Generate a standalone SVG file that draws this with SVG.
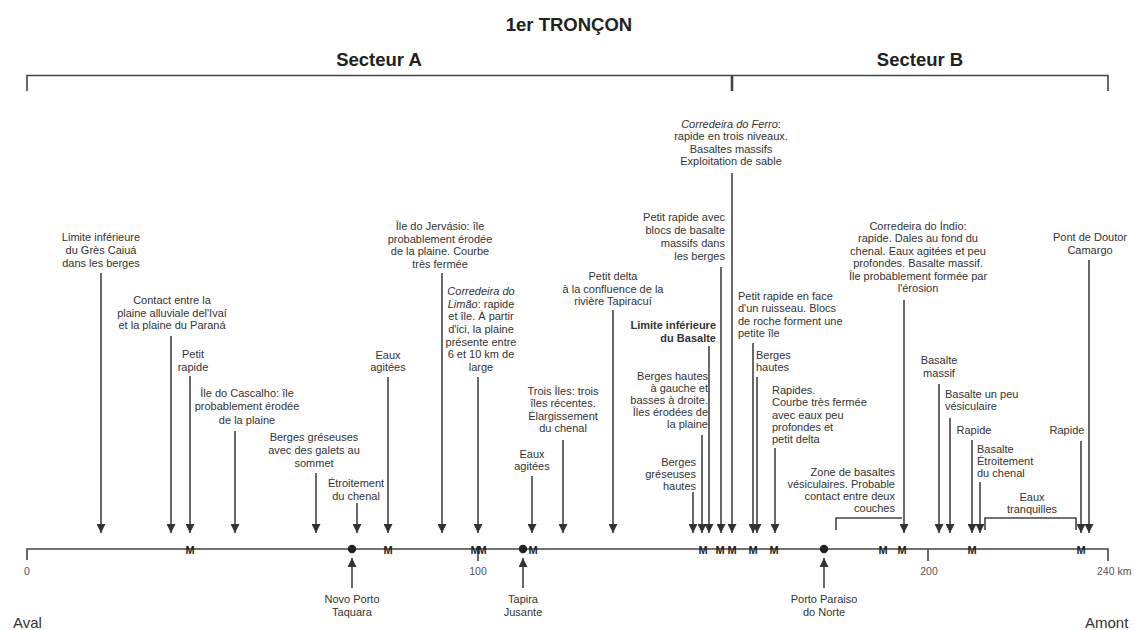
<svg xmlns="http://www.w3.org/2000/svg" width="1134" height="630" viewBox="0 0 1134 630">
<style>
text{font-family:"Liberation Sans",Arial,sans-serif;fill:#333;font-size:11px}
.c{text-anchor:middle}.r{text-anchor:end}
.h{font-weight:bold;font-size:18.5px;fill:#222}
.b{font-weight:bold}
.i{font-style:italic}
.ax{font-size:10.5px;fill:#555}
.end{font-size:15px}
.m{font-weight:bold;font-size:11px;text-anchor:middle;fill:#222}
.ln{stroke:#444;stroke-width:1.6;fill:none}
.ar{stroke:#444;stroke-width:1.6;fill:none;marker-end:url(#ah)}
</style>
<defs>
<marker id="ah" viewBox="0 0 10 10" refX="10" refY="5" markerWidth="11" markerHeight="9" markerUnits="userSpaceOnUse" orient="auto"><path d="M0,0 L10,5 L0,10 z" fill="#333"/></marker>
</defs>
<rect width="1134" height="630" fill="#fff"/>
<g id="title">
<text class="h c" x="569" y="31">1er TRONÇON</text>
<text class="h c" x="379" y="66">Secteur A</text>
<text class="h c" x="920" y="66">Secteur B</text>
<path class="ln" d="M27,91 V75.5 H1108 V91"/>
<path d="M732,75 V91" stroke="#444" stroke-width="2.6"/>
</g>
<g id="axis">
<path class="ln" d="M27,560 V549 H1108 V561 M478,549 V561 M928,549 V561"/>
<text class="ax c" x="27" y="575">0</text>
<text class="ax c" x="478" y="575">100</text>
<text class="ax c" x="929" y="575">200</text>
<text class="ax" x="1097" y="575">240 km</text>
<text class="end" x="13" y="628">Aval</text>
<text class="end" x="1085" y="628">Amont</text>
<g id="markers">
<text class="m" x="190" y="553.5">M</text>
<text class="m" x="388" y="553.5">M</text>
<text class="m" x="475" y="553.5">M</text>
<text class="m" x="482" y="553.5">M</text>
<text class="m" x="533" y="553.5">M</text>
<text class="m" x="703" y="553.5">M</text>
<text class="m" x="720" y="553.5">M</text>
<text class="m" x="732" y="553.5">M</text>
<text class="m" x="753" y="553.5">M</text>
<text class="m" x="774" y="553.5">M</text>
<text class="m" x="883" y="553.5">M</text>
<text class="m" x="902" y="553.5">M</text>
<text class="m" x="972" y="553.5">M</text>
<text class="m" x="1081" y="553.5">M</text>
</g>
</g>
<g id="connectors">
<path class="ar" d="M101,273 V533"/>
<path class="ar" d="M171,336 V533"/>
<path class="ar" d="M190,376 V533"/>
<path class="ar" d="M235,431 V533"/>
<path class="ar" d="M316,473 V533"/>
<path class="ar" d="M357,503 V533"/>
<path class="ar" d="M388,377 V533"/>
<path class="ar" d="M442,273 V533"/>
<path class="ar" d="M478,377 V533"/>
<path class="ar" d="M563,440 V533"/>
<path class="ar" d="M532,476 V533"/>
<path class="ar" d="M613,310 V533"/>
<path class="ar" d="M732,173 V533"/>
<path class="ar" d="M721,267 V533"/>
<path class="ar" d="M709,346 V533"/>
<path class="ar" d="M702,435 V533"/>
<path class="ar" d="M693,492 V533"/>
<path class="ar" d="M753,343 V533"/>
<path class="ar" d="M757,377 V533"/>
<path class="ar" d="M775,448 V533"/>
<path class="ar" d="M904,300 V533"/>
<path class="ar" d="M939,384 V533"/>
<path class="ar" d="M950,418 V533"/>
<path class="ar" d="M972,440 V533"/>
<path class="ar" d="M980,482 V533"/>
<path class="ar" d="M1081,441 V533"/>
<path class="ar" d="M1089,260 V533"/>
<path class="ln" d="M836,530 V518 H902"/>
<path class="ln" d="M985,530 V518 H1076 V530"/>
<path class="ar" d="M352,588 V558"/>
<path class="ar" d="M523,588 V558"/>
<path class="ar" d="M824,588 V558"/>
</g>
<g id="towns">
<circle cx="352" cy="549" r="4.2" fill="#222"/>
<circle cx="523" cy="549" r="4.2" fill="#222"/>
<circle cx="824" cy="549" r="4.2" fill="#222"/>
<text class="c" x="352" y="603">Novo Porto<tspan x="352" dy="13">Taquara</tspan></text>
<text class="c" x="523" y="603">Tapira<tspan x="523" dy="13">Jusante</tspan></text>
<text class="c" x="824" y="603">Porto Paraiso<tspan x="824" dy="13">do Norte</tspan></text>
</g>
<g id="n1"><text class="c" x="101" y="241">Limite inférieure<tspan x="101" dy="13">du Grès Caiuá</tspan><tspan x="101" dy="13">dans les berges</tspan></text></g>
<g id="n2"><text class="c" x="172" y="304">Contact entre la<tspan x="172" dy="12.7">plaine alluviale del'Ivaí</tspan><tspan x="172" dy="12.7">et la plaine du Paraná</tspan></text></g>
<g id="n3"><text class="c" x="193" y="358">Petit<tspan x="193" dy="12.5">rapide</tspan></text></g>
<g id="n4"><text class="c" x="247" y="397">Île do Cascalho: île<tspan x="247" dy="13.3">probablement érodée</tspan><tspan x="247" dy="13.3">de la plaine</tspan></text></g>
<g id="n5"><text class="c" x="314" y="441">Berges gréseuses<tspan x="314" dy="13">avec des galets au</tspan><tspan x="314" dy="13">sommet</tspan></text></g>
<g id="n6"><text class="c" x="356" y="487">Étroitement<tspan x="356" dy="12.5">du chenal</tspan></text></g>
<g id="n7"><text class="c" x="388" y="359">Eaux<tspan x="388" dy="12">agitées</tspan></text></g>
<g id="n8"><text class="c" x="440" y="230">Île do Jervásio: île<tspan x="440" dy="12.5">probablement érodée</tspan><tspan x="440" dy="12.5">de la plaine. Courbe</tspan><tspan x="440" dy="12.5">très fermée</tspan></text></g>
<g id="n9"><text class="c" x="481" y="295"><tspan class="i">Corredeira do</tspan><tspan x="481" dy="12.67"><tspan class="i">Limão</tspan>: rapide</tspan><tspan x="481" dy="12.67">et île. À partir</tspan><tspan x="481" dy="12.67">d'ici, la plaine</tspan><tspan x="481" dy="12.67">présente entre</tspan><tspan x="481" dy="12.67">6 et 10 km de</tspan><tspan x="481" dy="12.67">large</tspan></text></g>
<g id="n10"><text class="c" x="563" y="395">Trois Îles: trois<tspan x="563" dy="12.4">îles récentes.</tspan><tspan x="563" dy="12.4">Élargissement</tspan><tspan x="563" dy="12.4">du chenal</tspan></text></g>
<g id="n11"><text class="c" x="532" y="458">Eaux<tspan x="532" dy="12">agitées</tspan></text></g>
<g id="n12"><text class="c" x="613" y="280">Petit delta<tspan x="613" dy="12.5">à la confluence de la</tspan><tspan x="613" dy="12.5">rivière Tapiracuí</tspan></text></g>
<g id="n13"><text class="c" x="731" y="128"><tspan class="i">Corredeira do Ferro</tspan>:<tspan x="731" dy="12.4">rapide en trois niveaux.</tspan><tspan x="731" dy="12.4">Basaltes massifs</tspan><tspan x="731" dy="12.4">Exploitation de sable</tspan></text></g>
<g id="n14"><text class="r" x="725" y="221">Petit rapide avec<tspan x="725" dy="13">blocs de basalte</tspan><tspan x="725" dy="13">massifs dans</tspan><tspan x="725" dy="13">les berges</tspan></text></g>
<g id="n15"><text class="r b" x="716" y="329">Limite inférieure<tspan x="716" dy="13">du Basalte</tspan></text></g>
<g id="n16"><text class="r" x="708" y="380">Berges hautes<tspan x="708" dy="12">à gauche et</tspan><tspan x="708" dy="12">basses à droite.</tspan><tspan x="708" dy="12">Îles érodées de</tspan><tspan x="708" dy="12">la plaine</tspan></text></g>
<g id="n17"><text class="r" x="696" y="466">Berges<tspan x="696" dy="12">gréseuses</tspan><tspan x="696" dy="12">hautes</tspan></text></g>
<g id="n18"><text x="738" y="300">Petit rapide en face<tspan x="738" dy="12.4">d'un ruisseau. Blocs</tspan><tspan x="738" dy="12.4">de roche forment une</tspan><tspan x="738" dy="12.4">petite île</tspan></text></g>
<g id="n19"><text x="756" y="359">Berges<tspan x="756" dy="12">hautes</tspan></text></g>
<g id="n20"><text x="772" y="394">Rapides.<tspan x="772" dy="12.3">Courbe très fermée</tspan><tspan x="772" dy="12.3">avec eaux peu</tspan><tspan x="772" dy="12.3">profondes et</tspan><tspan x="772" dy="12.3">petit delta</tspan></text></g>
<g id="n21"><text class="c" x="918" y="230">Corredeira do Índio:<tspan x="918" dy="12.4">rapide. Dales au fond du</tspan><tspan x="918" dy="12.4">chenal. Eaux agitées et peu</tspan><tspan x="918" dy="12.4">profondes. Basalte massif.</tspan><tspan x="918" dy="12.4">Île probablement formée par</tspan><tspan x="918" dy="12.4">l'érosion</tspan></text></g>
<g id="n22"><text class="r" x="895" y="476">Zone de basaltes<tspan x="895" dy="12">vésiculaires. Probable</tspan><tspan x="895" dy="12">contact entre deux</tspan><tspan x="895" dy="12">couches</tspan></text></g>
<g id="n23"><text class="c" x="939" y="364">Basalte<tspan x="939" dy="12.5">massif</tspan></text></g>
<g id="n24"><text x="945" y="398">Basalte un peu<tspan x="945" dy="12">vésiculaire</tspan></text></g>
<g id="n25"><text class="c" x="974" y="434">Rapide</text></g>
<g id="n26"><text x="977" y="453">Basalte<tspan x="977" dy="12">Étroitement</tspan><tspan x="977" dy="12">du chenal</tspan></text></g>
<g id="n27"><text class="c" x="1032" y="501">Eaux<tspan x="1032" dy="12">tranquilles</tspan></text></g>
<g id="n28"><text class="c" x="1067" y="434">Rapide</text></g>
<g id="n29"><text class="c" x="1090" y="241">Pont de Doutor<tspan x="1090" dy="12.5">Camargo</tspan></text></g>
</svg>
